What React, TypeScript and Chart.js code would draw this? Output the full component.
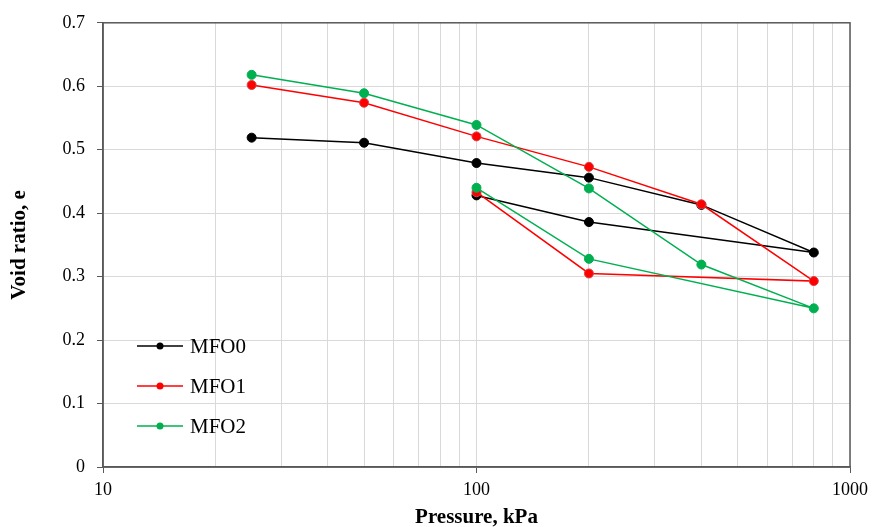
import React, { useEffect, useRef } from "react";
import { Chart, registerables } from "chart.js";

Chart.register(...registerables);

// Pressure steps: loading 25→800 kPa, then unloading 200, 100 kPa
const pressure = [25, 50, 100, 200, 400, 800, 200, 100];
const mfo0 = [0.519, 0.511, 0.479, 0.456, 0.413, 0.338, 0.386, 0.428];
const mfo1 = [0.602, 0.574, 0.521, 0.473, 0.414, 0.293, 0.305, 0.433];
const mfo2 = [0.618, 0.589, 0.539, 0.439, 0.319, 0.250, 0.328, 0.440];
const seriesNames = ["MFO0", "MFO1", "MFO2"];
const seriesColors = ["#000000", "#ff0000", "#00b050"];
const xMajorTicks = [10, 100, 1000];
const yTicks = [0, 0.1, 0.2, 0.3, 0.4, 0.5, 0.6, 0.7];

const SERIF = "'Liberation Serif', 'Times New Roman', serif";
const AXIS = "#595959";
const GRID = "#d9d9d9";

function buildMinorTicks(): number[] {
  const out: number[] = [];
  for (let i = 0; i < xMajorTicks.length; i++) {
    const base = xMajorTicks[i];
    out.push(base);
    if (i < xMajorTicks.length - 1) {
      for (let m = 2; m <= 9; m++) out.push(base * m);
    }
  }
  return out;
}

const framePlugin = {
  id: "frameAndLegend",
  afterDatasetsDraw(chart: any) {
    const { ctx, chartArea } = chart;
    ctx.save();
    // legend
    const ys = [346, 386, 426];
    ctx.font = `21px ${SERIF}`;
    ctx.textBaseline = "middle";
    ctx.textAlign = "left";
    seriesNames.forEach((name, i) => {
      const y = ys[i];
      ctx.strokeStyle = seriesColors[i];
      ctx.lineWidth = 1.5;
      ctx.beginPath();
      ctx.moveTo(137, y);
      ctx.lineTo(183, y);
      ctx.stroke();
      ctx.fillStyle = seriesColors[i];
      ctx.beginPath();
      ctx.arc(160, y, 3.5, 0, Math.PI * 2);
      ctx.fill();
      ctx.fillStyle = "#000000";
      ctx.fillText(name, 190, y + 1);
    });
    // frame
    ctx.strokeStyle = AXIS;
    ctx.lineWidth = 1.5;
    ctx.strokeRect(
      chartArea.left,
      chartArea.top,
      chartArea.right - chartArea.left,
      chartArea.bottom - chartArea.top
    );
    ctx.restore();
  },
};

export default function App() {
  const ref = useRef<HTMLCanvasElement | null>(null);

  useEffect(() => {
    document.body.style.margin = "0";
    if (!ref.current) return;
    const mk = (vals: number[]) => pressure.map((p, i) => ({ x: p, y: vals[i] }));
    const all = [mfo0, mfo1, mfo2];
    const chart = new Chart(ref.current, {
      type: "scatter",
      data: {
        datasets: all.map((vals, i) => ({
          label: seriesNames[i],
          data: mk(vals),
          showLine: true,
          borderColor: seriesColors[i],
          backgroundColor: seriesColors[i],
          pointBackgroundColor: seriesColors[i],
          pointBorderColor: i === 1 ? "#d84040" : seriesColors[i],
          pointBorderWidth: 1,
          borderWidth: 1.5,
          pointRadius: 4.5,
          tension: 0,
          order: 3 - i,
        })),
      },
      options: {
        animation: false,
        responsive: true,
        maintainAspectRatio: false,
        layout: { padding: { top: 20, right: 23, left: 0, bottom: 0 } },
        plugins: {
          legend: { display: false },
          tooltip: { enabled: false },
        },
        scales: {
          x: {
            type: "logarithmic",
            min: 10,
            max: 1000,
            afterBuildTicks: (scale: any) => {
              scale.ticks = buildMinorTicks().map((v) => ({
                value: v,
                major: xMajorTicks.includes(v),
              }));
            },
            afterFit: (scale: any) => {
              scale.height = 60;
            },
            ticks: {
              autoSkip: false,
              maxRotation: 0,
              minRotation: 0,
              padding: 6,
              color: "#000000",
              font: { family: SERIF, size: 18 },
              callback: (v: any) => (xMajorTicks.includes(Number(v)) ? String(v) : ""),
            },
            grid: {
              color: GRID,
              lineWidth: 1,
              tickLength: 6,
              tickColor: (c: any) =>
                c.tick && xMajorTicks.includes(c.tick.value) ? AXIS : "rgba(0,0,0,0)",
            },
            border: { color: AXIS, width: 1.5 },
            title: {
              display: true,
              text: "Pressure, kPa",
              color: "#000000",
              font: { family: SERIF, size: 21, weight: "bold" },
              padding: { top: 0, bottom: -3 },
            },
          },
          y: {
            min: 0,
            max: 0.7,
            afterBuildTicks: (scale: any) => {
              scale.ticks = yTicks.map((v) => ({ value: v }));
            },
            afterFit: (scale: any) => {
              scale.width = 103;
            },
            ticks: {
              padding: 12,
              color: "#000000",
              font: { family: SERIF, size: 18 },
              callback: (v: any) => String(Number(Number(v).toFixed(1))),
            },
            grid: {
              color: GRID,
              lineWidth: 1,
              tickLength: 6,
              tickColor: AXIS,
            },
            border: { color: AXIS, width: 1.5 },
            title: {
              display: true,
              text: "Void ratio, e",
              color: "#000000",
              font: { family: SERIF, size: 21, weight: "bold" },
              padding: { top: 7, bottom: 0 },
            },
          },
        },
      },
      plugins: [framePlugin],
    });
    return () => chart.destroy();
  }, []);

  return (
    <div style={{ position: "fixed", left: 0, top: 0, width: 874, height: 527, background: "#ffffff" }}>
      <canvas ref={ref} />
    </div>
  );
}
